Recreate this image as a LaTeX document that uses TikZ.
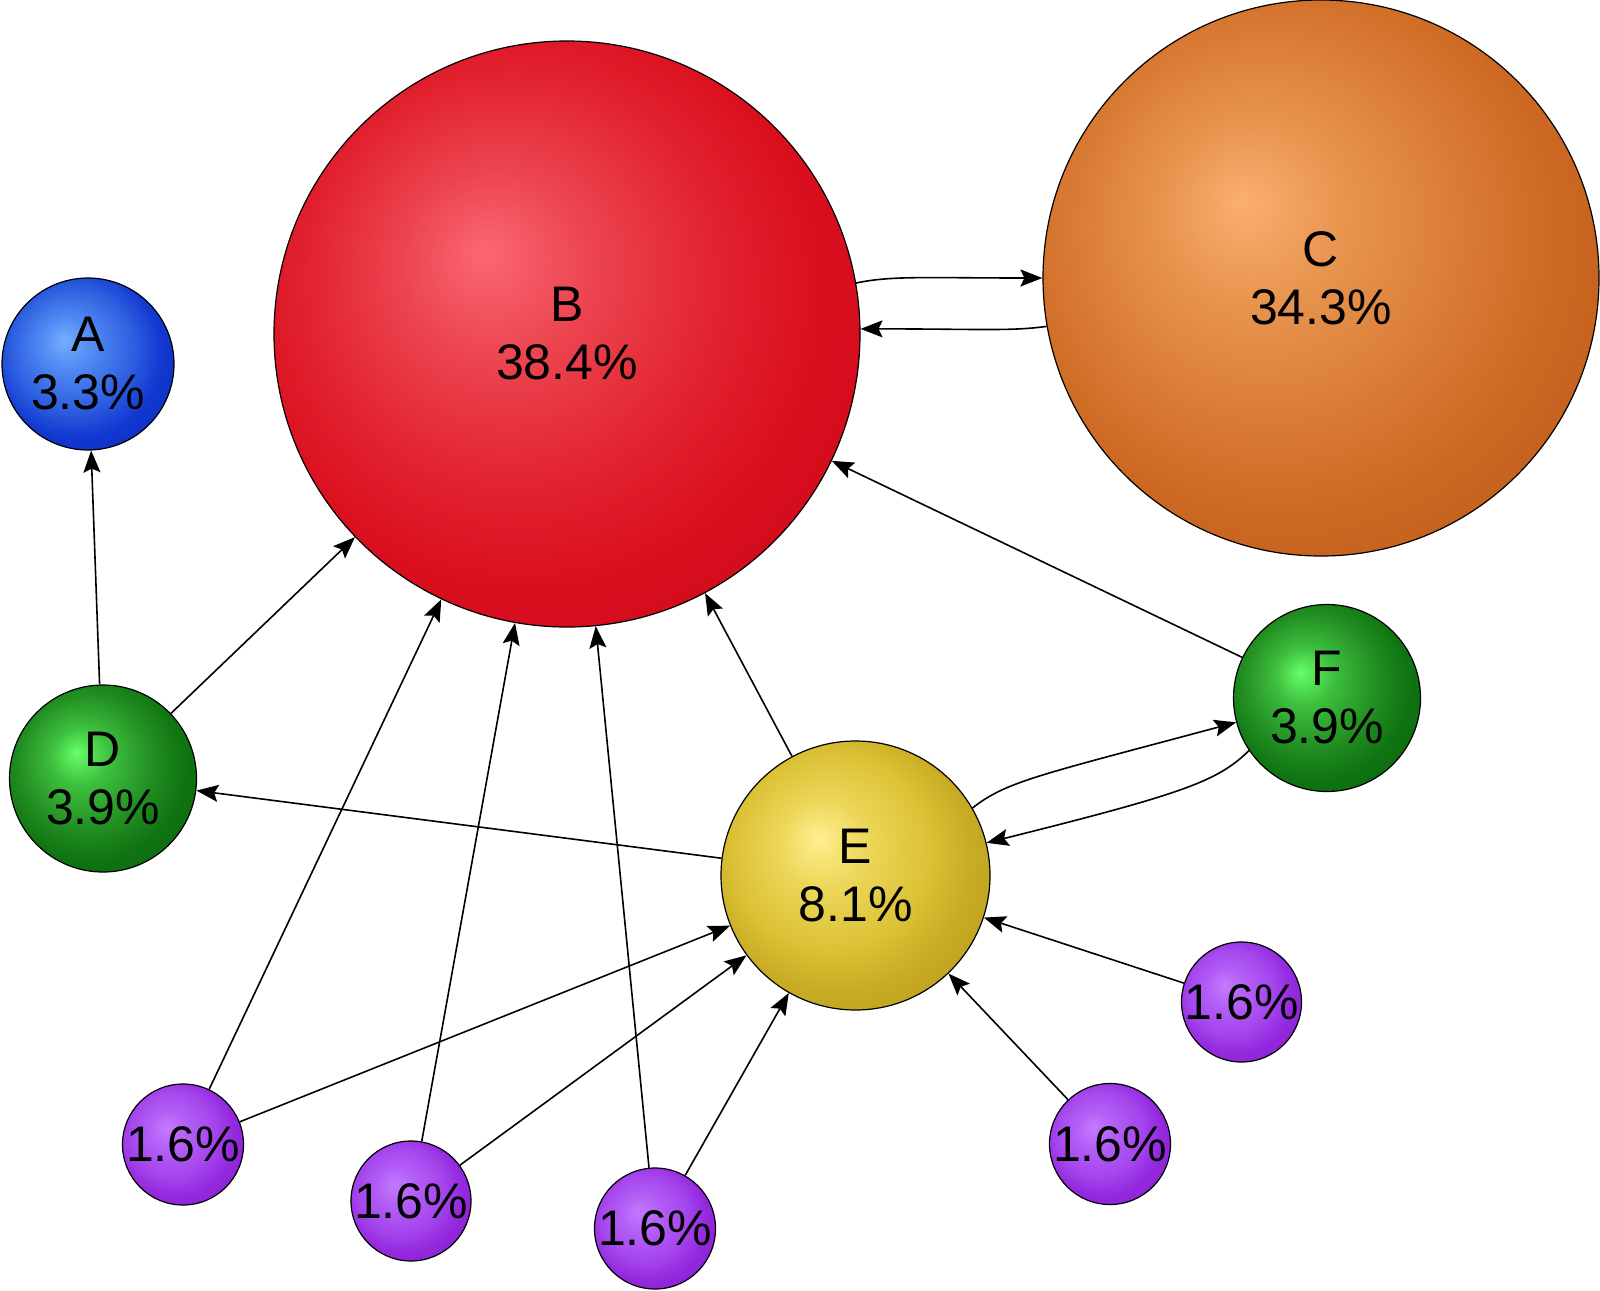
\documentclass[tikz,border=0pt]{standalone}
\usepackage{fontspec}
\setmainfont{Liberation Sans}
\usetikzlibrary{arrows.meta}
% colours
\definecolor{Bhi}{HTML}{FB6872}\definecolor{Bm1}{HTML}{EC4550}\definecolor{Bm2}{HTML}{E2212E}\definecolor{Bed}{HTML}{DA0F1E}\definecolor{Bout}{HTML}{B00010}
\definecolor{Chi}{HTML}{FBAF70}\definecolor{Cm1}{HTML}{E8954F}\definecolor{Cm2}{HTML}{D97A34}\definecolor{Ced}{HTML}{CC6822}\definecolor{Cout}{HTML}{A04C10}
\definecolor{Ahi}{HTML}{74AEFF}\definecolor{Am1}{HTML}{4F88F2}\definecolor{Am2}{HTML}{2C5EE0}\definecolor{Aed}{HTML}{1238D0}\definecolor{Aout}{HTML}{0018A0}
\definecolor{Ghi}{HTML}{66FF66}\definecolor{Gm1}{HTML}{3DBE3D}\definecolor{Gm2}{HTML}{228E22}\definecolor{Ged}{HTML}{107512}\definecolor{Gout}{HTML}{004A00}
\definecolor{Yhi}{HTML}{FFEF90}\definecolor{Ym1}{HTML}{EDD75A}\definecolor{Ym2}{HTML}{DCC236}\definecolor{Yed}{HTML}{C8AC24}\definecolor{Yout}{HTML}{9C800C}
\definecolor{Phi}{HTML}{C47AFF}\definecolor{Pm1}{HTML}{B35FF6}\definecolor{Pm2}{HTML}{A445EC}\definecolor{Ped}{HTML}{9428DE}\definecolor{Pout}{HTML}{7010B0}
\pgfdeclareradialshading{shB}{\pgfpoint{-7.2bp}{7bp}}{color(0bp)=(Bhi); color(8bp)=(Bm1); color(18bp)=(Bm2); color(25bp)=(Bed); color(50bp)=(Bout)}
\pgfdeclareradialshading{shC}{\pgfpoint{-7.2bp}{7bp}}{color(0bp)=(Chi); color(8bp)=(Cm1); color(18bp)=(Cm2); color(25bp)=(Ced); color(50bp)=(Cout)}
\pgfdeclareradialshading{shA}{\pgfpoint{-7.2bp}{7bp}}{color(0bp)=(Ahi); color(8bp)=(Am1); color(18bp)=(Am2); color(25bp)=(Aed); color(50bp)=(Aout)}
\pgfdeclareradialshading{shG}{\pgfpoint{-7.2bp}{7bp}}{color(0bp)=(Ghi); color(8bp)=(Gm1); color(18bp)=(Gm2); color(25bp)=(Ged); color(50bp)=(Gout)}
\pgfdeclareradialshading{shY}{\pgfpoint{-7.2bp}{7bp}}{color(0bp)=(Yhi); color(8bp)=(Ym1); color(18bp)=(Ym2); color(25bp)=(Yed); color(50bp)=(Yout)}
\pgfdeclareradialshading{shP}{\pgfpoint{-7.2bp}{7bp}}{color(0bp)=(Phi); color(8bp)=(Pm1); color(18bp)=(Pm2); color(25bp)=(Ped); color(50bp)=(Pout)}
\tikzset{
  page/.style={circle, draw=black, line width=0.6pt, inner sep=0pt, align=center,
    font=\fontsize{25}{29}\selectfont},
  arr/.style={-{Stealth[length=11pt,width=8.5pt,inset=2pt]}, line width=0.8pt, draw=black}
}
\begin{document}
\begin{tikzpicture}[x=0.5pt,y=-0.5pt]
\useasboundingbox (0,0) rectangle (1600,1290);
% nodes
\node[page, shading=shA, minimum size=86pt]   (A) at (88,364)    {A\\3.3\%};
\node[page, shading=shB, minimum size=293pt]  (B) at (567,334)   {B\\38.4\%};
\node[page, shading=shC, minimum size=278pt]  (C) at (1321,278)  {C\\34.3\%};
\node[page, shading=shG, minimum size=93.5pt] (D) at (103,778.5) {D\\3.9\%};
\node[page, shading=shY, minimum size=134.5pt](E) at (855.5,875.5) {E\\8.1\%};
\node[page, shading=shG, minimum size=93.5pt] (F) at (1327,698)  {F\\3.9\%};
\node[page, shading=shP, minimum size=60.5pt] (P1) at (183,1144.5) {1.6\%};
\node[page, shading=shP, minimum size=60pt]   (P2) at (411,1201)   {1.6\%};
\node[page, shading=shP, minimum size=60.5pt] (P3) at (655,1228.5) {1.6\%};
\node[page, shading=shP, minimum size=60.5pt] (P5) at (1110,1144)  {1.6\%};
\node[page, shading=shP, minimum size=60pt]   (P6) at (1241.5,1002){1.6\%};
% edges
\draw[arr] (D) -- (A);
\draw[arr] (D) -- (B);
\draw[arr] (E) -- (D);
\draw[arr] (E) -- (B);
\draw[arr] (F) -- (B);
\draw[arr] (B.10) to[out=12,in=180,out looseness=0.5,in looseness=1.6] (C.west);
\draw[arr] (C.190) to[out=188,in=0,out looseness=0.5,in looseness=1.6] (B.1);
\draw[arr] (E.30) to[out=38,in=195,out looseness=0.4,in looseness=1.9] (F.195);
\draw[arr] (F.214) to[out=224,in=14,out looseness=0.4,in looseness=1.9] (E.14);
\draw[arr] (P1) -- (B);
\draw[arr] (P1) -- (E);
\draw[arr] (P2) -- (B);
\draw[arr] (P2) -- (E);
\draw[arr] (P3) -- (B);
\draw[arr] (P3) -- (E);
\draw[arr] (P5) -- (E);
\draw[arr] (P6) -- (E);
\end{tikzpicture}
\end{document}
